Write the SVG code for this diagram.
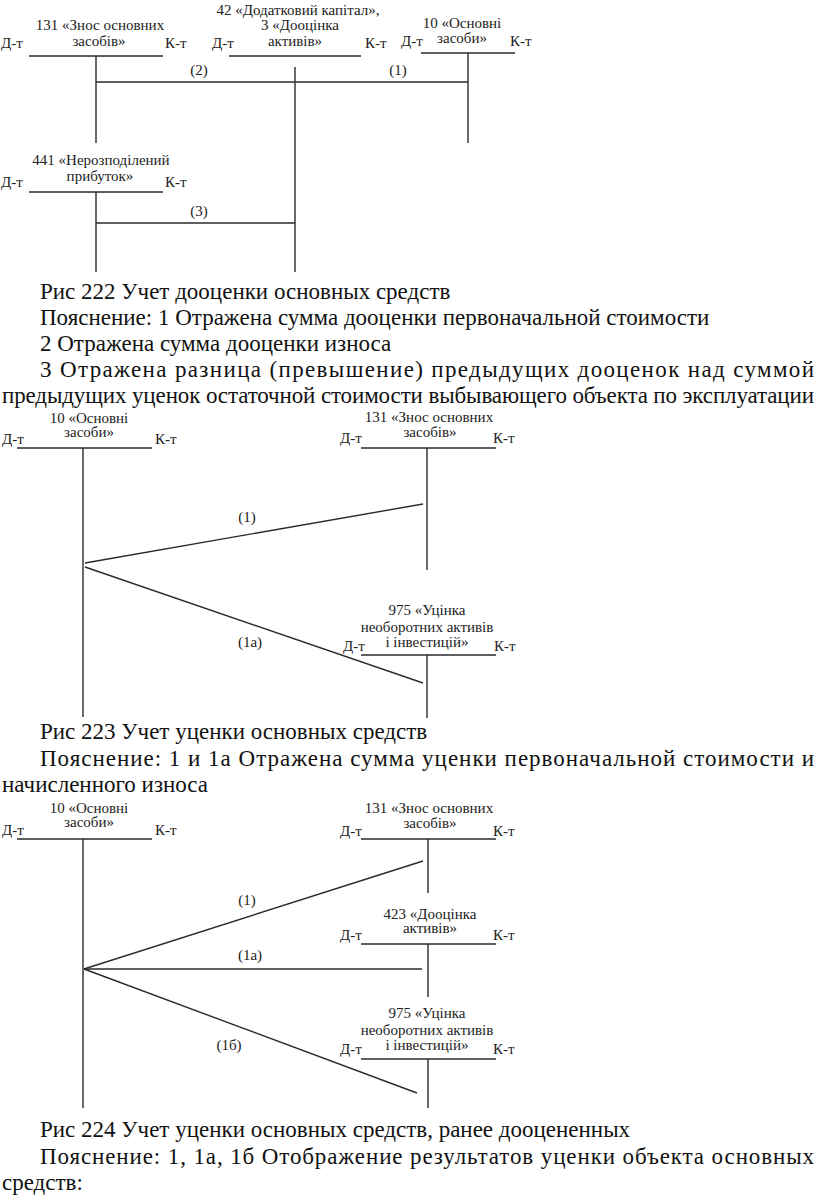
<svg xmlns="http://www.w3.org/2000/svg" width="816" height="1197" viewBox="0 0 816 1197">
<style>
.l{font-family:"Liberation Serif","Times New Roman",serif;font-size:15px;fill:#222}
.c{text-anchor:middle}
.b{font-family:"Liberation Serif","Times New Roman",serif;font-size:23px;fill:#111}
line{stroke:#2a2a2a;stroke-width:1.4;fill:none}
</style>
<rect width="816" height="1197" fill="#fff"/>

<!-- Diagram 1 -->
<g id="acc131a">
<text class="l c" x="100" y="30">131 «Знос основних</text>
<text class="l c" x="99" y="46">засобів»</text>
<text class="l" x="1" y="48">Д-т</text>
<text class="l" x="165" y="48">К-т</text>
<line x1="29" y1="56" x2="163" y2="56"/>
<line x1="96" y1="56" x2="96" y2="143"/>
</g>
<g id="acc42">
<text class="l c" x="298" y="15">42 «Додатковий капітал»,</text>
<text class="l c" x="300" y="30">3 «Дооцінка</text>
<text class="l c" x="295" y="46">активів»</text>
<text class="l" x="212" y="48">Д-т</text>
<text class="l" x="365" y="48">К-т</text>
<line x1="229" y1="56" x2="361" y2="56"/>
<line x1="295" y1="67" x2="295" y2="272"/>
</g>
<g id="acc10a">
<text class="l c" x="462" y="28">10 «Основні</text>
<text class="l c" x="462" y="43">засоби»</text>
<text class="l" x="401" y="46">Д-т</text>
<text class="l" x="510" y="46">К-т</text>
<line x1="421" y1="53" x2="515" y2="53"/>
<line x1="468" y1="53" x2="468" y2="143"/>
</g>
<g id="acc441">
<text class="l c" x="101" y="165">441 «Нерозподілений</text>
<text class="l c" x="100" y="181">прибуток»</text>
<text class="l" x="1" y="187">Д-т</text>
<text class="l" x="165" y="187">К-т</text>
<line x1="29" y1="192" x2="163" y2="192"/>
<line x1="96" y1="192" x2="96" y2="272"/>
</g>

<!-- Diagram 2 -->
<g id="acc10b">
<text class="l c" x="89" y="423">10 «Основні</text>
<text class="l c" x="89" y="437">засоби»</text>
<text class="l" x="2" y="444">Д-т</text>
<text class="l" x="155" y="444">К-т</text>
<line x1="17" y1="448" x2="152" y2="448"/>
<line x1="83" y1="448" x2="83" y2="717"/>
</g>
<g id="acc131b">
<text class="l c" x="429" y="422">131 «Знос основних</text>
<text class="l c" x="430" y="437">засобів»</text>
<text class="l" x="340" y="443">Д-т</text>
<text class="l" x="493" y="443">К-т</text>
<line x1="361" y1="448" x2="496" y2="448"/>
<line x1="427" y1="448" x2="427" y2="570"/>
</g>
<g id="acc975a">
<text class="l c" x="427" y="615">975 «Уцінка</text>
<text class="l c" x="427" y="632">необоротних активів</text>
<text class="l c" x="427" y="647">і інвестицій»</text>
<text class="l" x="343" y="651">Д-т</text>
<text class="l" x="494" y="651">К-т</text>
<line x1="361" y1="655" x2="496" y2="655"/>
<line x1="427" y1="655" x2="427" y2="718"/>
</g>

<!-- Diagram 3 -->
<g id="acc10c">
<text class="l c" x="89" y="813">10 «Основні</text>
<text class="l c" x="89" y="827">засоби»</text>
<text class="l" x="2" y="835">Д-т</text>
<text class="l" x="155" y="835">К-т</text>
<line x1="17" y1="839" x2="152" y2="839"/>
<line x1="83" y1="839" x2="83" y2="1108"/>
</g>
<g id="acc131c">
<text class="l c" x="429" y="813">131 «Знос основних</text>
<text class="l c" x="430" y="828">засобів»</text>
<text class="l" x="340" y="836">Д-т</text>
<text class="l" x="493" y="836">К-т</text>
<line x1="361" y1="839" x2="496" y2="839"/>
<line x1="428" y1="839" x2="428" y2="893"/>
</g>
<g id="acc423">
<text class="l c" x="430" y="919">423 «Дооцінка</text>
<text class="l c" x="430" y="933">активів»</text>
<text class="l" x="340" y="940">Д-т</text>
<text class="l" x="493" y="940">К-т</text>
<line x1="361" y1="944" x2="496" y2="944"/>
<line x1="428" y1="944" x2="428" y2="997"/>
</g>
<g id="acc975b">
<text class="l c" x="427" y="1018">975 «Уцінка</text>
<text class="l c" x="427" y="1035">необоротних активів</text>
<text class="l c" x="427" y="1050">і інвестицій»</text>
<text class="l" x="340" y="1054">Д-т</text>
<text class="l" x="493" y="1054">К-т</text>
<line x1="361" y1="1059" x2="496" y2="1059"/>
<line x1="428" y1="1059" x2="428" y2="1108"/>
</g>

<g id="connectors">
<line x1="96" y1="82" x2="468" y2="82"/>
<line x1="96" y1="223" x2="295" y2="223"/>
<line x1="85" y1="563" x2="423" y2="504"/>
<line x1="85" y1="567" x2="423" y2="683"/>
<line x1="84" y1="969" x2="423" y2="861"/>
<line x1="84" y1="969" x2="422" y2="969"/>
<line x1="84" y1="969" x2="417" y2="1093"/>
<text class="l c" x="199" y="75">(2)</text>
<text class="l c" x="398" y="75">(1)</text>
<text class="l c" x="199" y="216">(3)</text>
<text class="l c" x="247" y="522">(1)</text>
<text class="l c" x="250" y="647">(1а)</text>
<text class="l c" x="247" y="905">(1)</text>
<text class="l c" x="250" y="960">(1а)</text>
<text class="l c" x="229" y="1050">(1б)</text>
</g>

<g id="captions">
<text class="b" x="40" y="299">Рис 222 Учет дооценки основных средств</text>
<text class="b" x="40" y="325">Пояснение: 1 Отражена сумма дооценки первоначальной стоимости</text>
<text class="b" x="40" y="351">2 Отражена сумма дооценки износа</text>
<text class="b" x="40" y="377" textLength="774" lengthAdjust="spacing">3 Отражена разница (превышение) предыдущих дооценок над суммой</text>
<text class="b" x="2" y="403" textLength="812" lengthAdjust="spacing">предыдущих уценок остаточной стоимости выбывающего объекта по эксплуатации</text>
<text class="b" x="40" y="739">Рис 223 Учет уценки основных средств</text>
<text class="b" x="40" y="766" textLength="774" lengthAdjust="spacing">Пояснение: 1 и 1а Отражена сумма уценки первоначальной стоимости и</text>
<text class="b" x="2" y="792">начисленного износа</text>
<text class="b" x="40" y="1137">Рис 224 Учет уценки основных средств, ранее дооцененных</text>
<text class="b" x="40" y="1164" textLength="774" lengthAdjust="spacing">Пояснение: 1, 1а, 1б Отображение результатов уценки объекта основных</text>
<text class="b" x="2" y="1190">средств:</text>
</g>
</svg>
